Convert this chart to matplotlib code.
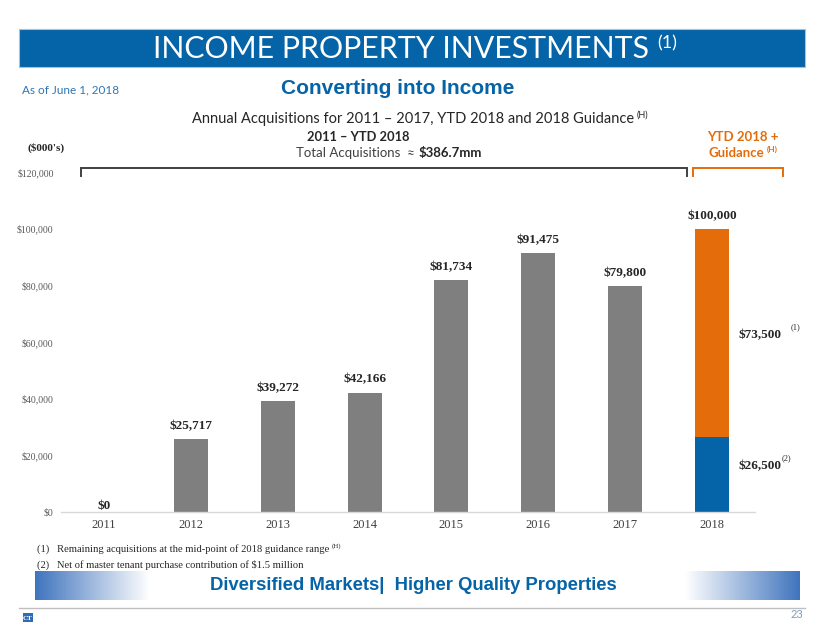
import matplotlib
matplotlib.use("Agg")
import matplotlib.pyplot as plt
import numpy as np
from matplotlib.patches import Rectangle

# ---------------- data ----------------
years = ['2011', '2012', '2013', '2014', '2015', '2016', '2017', '2018']
annual_acq = [0, 25717, 39272, 42166, 81734, 91475, 79800]   # 2011-2017
ytd_2018 = 26500
remaining_2018 = 73500
total_2018 = 100000
yticks = [0, 20000, 40000, 60000, 80000, 100000, 120000]
ytick_labels = ['$0', '$20,000', '$40,000', '$60,000', '$80,000', '$100,000', '$120,000']

W, H = 824, 637
fig = plt.figure(figsize=(W / 100, H / 100), dpi=100)
fig.patch.set_facecolor('white')

BLUE = '#0563A7'
ORANGE = '#E46C0A'
GRAY = '#7F7F7F'
SERIF = 'Liberation Serif'
GOTH = 'Lato'
NARROW = ['Liberation Sans Narrow', 'Liberation Sans']

def fx(x):
    return x / W

def fy(y):
    return 1 - y / H

# background axes in pixel coordinates for decorations
bg = fig.add_axes([0, 0, 1, 1])
bg.axis('off')

# title band
bg.add_patch(Rectangle((19, 29), 786, 38, facecolor=BLUE, edgecolor='#9DC3E6', lw=0.8))

# bottom band gradients
grad = np.linspace(0, 1, 256)
def cmap_grad(rev=False):
    g = grad[::-1] if rev else grad
    c0 = np.array([0x3F / 255, 0x74 / 255, 0xBD / 255])
    c1 = np.array([1.0, 1.0, 1.0])
    img = c0[None, :] * (1 - g[:, None]) + c1[None, :] * g[:, None]
    return img[None, :, :]
bg.imshow(cmap_grad(False), extent=(35, 150, 600, 571), aspect='auto', zorder=1)
bg.imshow(cmap_grad(True), extent=(685, 800, 600, 571), aspect='auto', zorder=1)
bg.set_xlim(0, W)
bg.set_ylim(H, 0)

# bottom gray line
bg.plot([19, 805], [608, 608], color='#BFBFBF', lw=1.0)
# small logo
bg.add_patch(Rectangle((23, 613), 10, 9, facecolor='#2E6DB4', edgecolor='none'))
bg.text(28, 618.5, 'CT', ha='center', va='center', fontsize=5, color='white',
        family=SERIF, fontweight='bold')

# brackets
bg.plot([81, 81, 687, 687], [176, 168, 168, 176], color='#404040', lw=1.4,
        solid_joinstyle='miter')
bg.plot([693, 693, 783, 783], [176, 168, 168, 176], color=ORANGE, lw=1.4,
        solid_joinstyle='miter')

renderer = fig.canvas.get_renderer()

def sup_after(t, s, dx=2, dy=5, **kw):
    bb = t.get_window_extent(renderer)
    x = bb.x1 + dx
    ymid = (bb.y0 + bb.y1) / 2
    return fig.text(x / W, (ymid + dy) / H, s, ha='left', va='center', **kw)

# ---------------- texts ----------------
t = fig.text(fx(401), fy(49), 'INCOME PROPERTY INVESTMENTS', ha='center', va='center',
             color='white', fontsize=21.8, family=GOTH, fontweight='normal')
sup_after(t, '(1)', dx=8, dy=6, color='white', fontsize=13, family=GOTH, fontweight='normal')

fig.text(fx(22), fy(90), 'As of June 1, 2018', ha='left', va='center',
         color='#2F75B5', fontsize=8.5, family=GOTH)
fig.text(fx(398), fy(88), 'Converting into Income', ha='center', va='center',
         color=BLUE, fontsize=15, family=NARROW, fontweight='bold')
t = fig.text(fx(413), fy(119), 'Annual Acquisitions for 2011 \u2013 2017, YTD 2018 and 2018 Guidance',
             ha='center', va='center', color='#262626', fontsize=10.5, family=GOTH)
sup_after(t, '(H)', dx=3, dy=4, color='#262626', fontsize=6.5, family=GOTH)

fig.text(fx(358), fy(137), '2011 \u2013 YTD 2018', ha='center', va='center',
         color='#262626', fontsize=9.3, family=GOTH, fontweight='bold')
t = fig.text(fx(357), fy(153), 'Total Acquisitions  \u2248 ', ha='center', va='center',
             color='#404040', fontsize=9.5, family=GOTH)
bb = t.get_window_extent(renderer)
fig.text(bb.x1 / W, fy(153), '$386.7mm', ha='left', va='center',
         color='#262626', fontsize=9.5, family=GOTH, fontweight='bold')

fig.text(fx(46), fy(148), "($000's)", ha='center', va='center',
         color='#262626', fontsize=8, family=SERIF, fontweight='bold')

fig.text(fx(743), fy(137), 'YTD 2018 +', ha='center', va='center',
         color=ORANGE, fontsize=9.5, family=GOTH, fontweight='bold')
t = fig.text(fx(736), fy(153), 'Guidance', ha='center', va='center',
             color=ORANGE, fontsize=9.5, family=GOTH, fontweight='bold')
sup_after(t, '(H)', dx=3, dy=4, color=ORANGE, fontsize=6, family=GOTH, fontweight='bold')

# footnotes
t = fig.text(fx(37), fy(549), '(1)   Remaining acquisitions at the mid-point of 2018 guidance range',
             ha='left', va='center', color='#262626', fontsize=7.6, family=SERIF)
sup_after(t, '(H)', dx=3, dy=3, color='#262626', fontsize=5, family=SERIF)
fig.text(fx(37), fy(565), '(2)   Net of master tenant purchase contribution of $1.5 million',
         ha='left', va='center', color='#262626', fontsize=7.6, family=SERIF)

fig.text(fx(413), fy(586), 'Diversified Markets|  Higher Quality Properties', ha='center',
         va='center', color=BLUE, fontsize=13.3, family=NARROW, fontweight='bold')
fig.text(fx(803), fy(614), '23', ha='right', va='center', color='#7F9CC0',
         fontsize=8, family=GOTH)

# ---------------- chart ----------------
ax = fig.add_axes([60.6 / W, 1 - 512 / H, (755.4 - 60.6) / W, (512 - 172) / H])
ax.set_zorder(2)
ax.patch.set_alpha(0)
x = np.arange(len(years))
bw = 0.39
ax.bar(x[:len(annual_acq)], annual_acq, width=bw, color=GRAY)
ax.bar(x[-1], ytd_2018, width=bw, color=BLUE)
ax.bar(x[-1], remaining_2018, width=bw, bottom=ytd_2018, color=ORANGE)

ax.set_xlim(-0.5, len(years) - 0.5)
ax.set_ylim(0, 120000)
ax.set_yticks(yticks)
ax.set_yticklabels(ytick_labels, family=SERIF, fontsize=7, color='#595959')
ax.set_xticks(x)
ax.set_xticklabels(years, family=SERIF, fontsize=9, color='#404040')
ax.tick_params(axis='both', length=0)
ax.tick_params(axis='y', pad=5)
ax.tick_params(axis='x', pad=5)
for s in ['top', 'right', 'left']:
    ax.spines[s].set_visible(False)
ax.spines['bottom'].set_color('#D9D9D9')
ax.spines['bottom'].set_linewidth(1.0)

for xi, v in zip(x, annual_acq):
    ax.annotate(f'${v:,.0f}', (xi, v), xytext=(0, 5 if v > 0 else 0), textcoords='offset points',
                ha='center', va='bottom', family=SERIF, fontweight='bold', fontsize=9.5,
                color='#262626')
ax.annotate(f'${total_2018:,.0f}', (x[-1], total_2018), xytext=(0, 5), textcoords='offset points',
            ha='center', va='bottom', family=SERIF, fontweight='bold', fontsize=9.5, color='#262626')

t1 = ax.annotate(f'${remaining_2018:,.0f}', (x[-1] + bw / 2, ytd_2018 + remaining_2018 / 2),
                 xytext=(7, -2), textcoords='offset points', ha='left', va='center',
                 family=SERIF, fontweight='bold', fontsize=9.5, color='#262626')
t2 = ax.annotate(f'${ytd_2018:,.0f}', (x[-1] + bw / 2, ytd_2018 / 2),
                 xytext=(7, 6), textcoords='offset points', ha='left', va='center',
                 family=SERIF, fontweight='bold', fontsize=9.5, color='#262626')
sup_after(t1, '(1)', dx=9, dy=8, color='#262626', fontsize=6, family=SERIF)
sup_after(t2, '(2)', dx=0, dy=8, color='#262626', fontsize=6, family=SERIF)

fig.savefig('out.png', dpi=100, facecolor='white')
